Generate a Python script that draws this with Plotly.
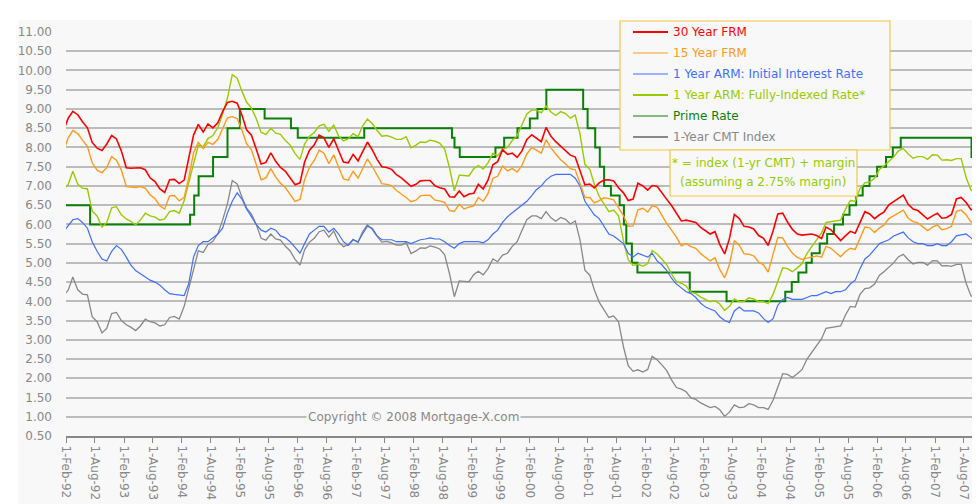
import pandas as pd
import plotly.graph_objects as go

# ---------------- data (monthly, Jan-1992 .. Jan-2008) ----------------
months = pd.date_range("1992-01-01", periods=193, freq="MS") + pd.Timedelta(days=14)

frm30 = [8.43, 8.76, 8.94, 8.85, 8.67, 8.51, 8.13, 7.98, 7.92, 8.09, 8.31, 8.22,
         7.91, 7.47, 7.46, 7.46, 7.47, 7.42, 7.21, 7.11, 6.92, 6.83, 7.16, 7.17,
         7.06, 7.15, 7.68, 8.32, 8.60, 8.40, 8.61, 8.51, 8.64, 8.93, 9.17, 9.20,
         9.15, 8.83, 8.46, 8.32, 7.96, 7.57, 7.61, 7.86, 7.64, 7.48, 7.38, 7.20,
         7.03, 7.08, 7.62, 7.93, 8.07, 8.32, 8.25, 8.00, 8.23, 7.92, 7.62, 7.60,
         7.82, 7.65, 7.90, 8.14, 7.94, 7.69, 7.50, 7.48, 7.43, 7.29, 7.21, 7.10,
         6.99, 7.04, 7.13, 7.14, 7.14, 7.00, 6.95, 6.92, 6.72, 6.71, 6.87, 6.72,
         6.79, 6.81, 7.04, 6.92, 7.15, 7.55, 7.63, 7.94, 7.82, 7.85, 7.74, 7.91,
         8.21, 8.33, 8.24, 8.15, 8.52, 8.29, 8.15, 8.03, 7.91, 7.80, 7.75, 7.38,
         7.03, 7.05, 6.95, 7.08, 7.15, 7.16, 7.13, 6.95, 6.82, 6.62, 6.66, 7.07,
         7.00, 6.89, 7.01, 6.99, 6.81, 6.65, 6.49, 6.29, 6.09, 6.11, 6.07, 6.05,
         5.92, 5.84, 5.75, 5.81, 5.48, 5.23, 5.63, 6.26, 6.15, 5.95, 5.93, 5.88,
         5.71, 5.64, 5.45, 5.83, 6.27, 6.29, 6.06, 5.87, 5.75, 5.72, 5.73, 5.75,
         5.71, 5.63, 5.93, 5.86, 5.72, 5.58, 5.70, 5.82, 5.77, 6.07, 6.33, 6.27,
         6.15, 6.25, 6.32, 6.51, 6.60, 6.68, 6.76, 6.52, 6.40, 6.36, 6.24, 6.14,
         6.22, 6.29, 6.16, 6.18, 6.26, 6.66, 6.70, 6.57, 6.38, 6.38, 6.21, 6.10,
         5.76]

frm15 = [7.88, 8.25, 8.44, 8.36, 8.19, 8.02, 7.60, 7.41, 7.34, 7.48, 7.76, 7.67,
         7.41, 6.98, 6.97, 6.96, 6.98, 6.94, 6.77, 6.67, 6.48, 6.40, 6.74, 6.75,
         6.61, 6.70, 7.20, 7.86, 8.13, 7.97, 8.13, 8.08, 8.21, 8.51, 8.77, 8.80,
         8.75, 8.44, 8.10, 7.94, 7.58, 7.16, 7.21, 7.45, 7.23, 7.07, 6.95, 6.78,
         6.60, 6.65, 7.16, 7.49, 7.66, 7.93, 7.85, 7.58, 7.81, 7.49, 7.18, 7.15,
         7.38, 7.20, 7.45, 7.70, 7.51, 7.26, 7.06, 7.04, 7.01, 6.88, 6.80, 6.70,
         6.59, 6.63, 6.74, 6.76, 6.75, 6.63, 6.61, 6.57, 6.36, 6.34, 6.52, 6.40,
         6.45, 6.48, 6.70, 6.60, 6.80, 7.20, 7.25, 7.51, 7.39, 7.45, 7.36, 7.53,
         7.83, 8.00, 7.93, 7.85, 8.20, 7.99, 7.83, 7.68, 7.57, 7.45, 7.42, 7.05,
         6.70, 6.70, 6.56, 6.62, 6.69, 6.67, 6.64, 6.43, 6.23, 5.95, 5.96, 6.38,
         6.42, 6.32, 6.48, 6.45, 6.22, 6.02, 5.85, 5.67, 5.44, 5.50, 5.42, 5.38,
         5.24, 5.14, 5.05, 5.13, 4.83, 4.61, 4.95, 5.58, 5.46, 5.24, 5.22, 5.18,
         5.02, 4.95, 4.76, 5.22, 5.66, 5.65, 5.43, 5.25, 5.14, 5.09, 5.12, 5.16,
         5.18, 5.15, 5.43, 5.38, 5.28, 5.16, 5.29, 5.38, 5.35, 5.66, 5.93, 5.91,
         5.79, 5.91, 5.98, 6.15, 6.23, 6.29, 6.37, 6.16, 6.07, 6.04, 5.93, 5.84,
         5.93, 5.99, 5.86, 5.89, 5.95, 6.34, 6.37, 6.25, 6.06, 6.07, 5.88, 5.80,
         5.39]

arm_initial = [5.80, 5.95, 6.12, 6.15, 6.05, 5.90, 5.55, 5.30, 5.10, 5.05, 5.30, 5.45,
               5.35, 5.15, 4.95, 4.80, 4.72, 4.65, 4.55, 4.50, 4.42, 4.30, 4.20, 4.18,
               4.16, 4.15, 4.45, 5.15, 5.45, 5.55, 5.55, 5.65, 5.75, 5.90, 6.30, 6.60,
               6.82, 6.65, 6.40, 6.20, 6.00, 5.85, 5.80, 5.90, 5.85, 5.70, 5.65, 5.55,
               5.40, 5.25, 5.50, 5.75, 5.85, 5.95, 5.95, 5.80, 5.90, 5.75, 5.55, 5.45,
               5.60, 5.55, 5.75, 5.95, 5.90, 5.70, 5.60, 5.60, 5.60, 5.55, 5.55, 5.55,
               5.50, 5.55, 5.60, 5.62, 5.65, 5.62, 5.62, 5.55, 5.45, 5.38, 5.50, 5.55,
               5.55, 5.55, 5.55, 5.52, 5.60, 5.75, 5.85, 6.05, 6.20, 6.30, 6.40, 6.50,
               6.60, 6.75, 6.90, 7.00, 7.15, 7.25, 7.30, 7.30, 7.30, 7.30, 7.20, 7.00,
               6.60, 6.40, 6.25, 6.15, 5.95, 5.75, 5.70, 5.60, 5.50, 5.25, 5.15, 5.25,
               5.20, 5.15, 5.25, 5.05, 4.95, 4.80, 4.60, 4.45, 4.35, 4.25, 4.20, 4.10,
               3.95, 3.85, 3.80, 3.75, 3.60, 3.50, 3.45, 3.75, 3.85, 3.75, 3.75, 3.75,
               3.70, 3.55, 3.45, 3.55, 3.90, 4.05, 4.10, 4.05, 4.05, 4.05, 4.10, 4.15,
               4.15, 4.20, 4.25, 4.20, 4.25, 4.25, 4.30, 4.45, 4.55, 4.85, 5.10, 5.20,
               5.35, 5.50, 5.55, 5.60, 5.70, 5.75, 5.80, 5.65, 5.55, 5.50, 5.50, 5.45,
               5.45, 5.50, 5.45, 5.45, 5.55, 5.70, 5.72, 5.75, 5.65, 5.55, 5.50, 5.45,
               5.40]

arm_fully_indexed = [6.90, 7.04, 7.38, 7.05, 6.94, 6.92, 6.35, 6.22, 5.93, 6.05, 6.43, 6.46,
                     6.25, 6.14, 6.08, 5.99, 6.11, 6.29, 6.22, 6.19, 6.11, 6.14, 6.33, 6.36,
                     6.29, 6.62, 7.07, 7.57, 8.06, 8.02, 8.23, 8.31, 8.51, 8.86, 9.29, 9.89,
                     9.80, 9.45, 9.18, 9.02, 8.75, 8.39, 8.34, 8.50, 8.37, 8.34, 8.18, 8.06,
                     7.84, 7.69, 8.09, 8.29, 8.39, 8.56, 8.60, 8.42, 8.58, 8.30, 8.17, 8.22,
                     8.36, 8.28, 8.55, 8.74, 8.62, 8.44, 8.29, 8.31, 8.27, 8.21, 8.21, 8.28,
                     7.99, 8.06, 8.14, 8.13, 8.19, 8.16, 8.11, 7.96, 7.46, 6.87, 7.28, 7.27,
                     7.26, 7.45, 7.53, 7.44, 7.60, 7.85, 7.78, 7.95, 8.00, 8.18, 8.30, 8.59,
                     8.87, 8.97, 8.97, 8.90, 9.08, 8.92, 8.83, 8.93, 8.88, 8.76, 8.84, 8.35,
                     7.56, 7.43, 7.05, 6.73, 6.53, 6.33, 6.37, 6.22, 5.57, 5.08, 4.93, 4.97,
                     4.91, 4.98, 5.32, 5.23, 5.10, 4.95, 4.71, 4.51, 4.47, 4.40, 4.24, 4.20,
                     4.11, 4.05, 3.99, 4.02, 3.93, 3.76, 3.87, 4.06, 3.99, 4.00, 4.09, 4.06,
                     3.99, 3.99, 3.94, 4.18, 4.53, 4.87, 4.85, 4.77, 4.87, 4.98, 5.25, 5.42,
                     5.61, 5.78, 6.05, 6.07, 6.08, 6.11, 6.39, 6.62, 6.60, 6.93, 7.08, 7.10,
                     7.20, 7.43, 7.52, 7.65, 7.75, 7.91, 7.97, 7.83, 7.72, 7.76, 7.76, 7.69,
                     7.81, 7.80, 7.67, 7.68, 7.66, 7.71, 7.71, 7.22, 6.89, 6.85, 6.25, 6.01,
                     5.46]

cmt_1yr = [4.15, 4.29, 4.63, 4.30, 4.19, 4.17, 3.60, 3.47, 3.18, 3.30, 3.68, 3.71,
           3.50, 3.39, 3.33, 3.24, 3.36, 3.54, 3.47, 3.44, 3.36, 3.39, 3.58, 3.61,
           3.54, 3.87, 4.32, 4.82, 5.31, 5.27, 5.48, 5.56, 5.76, 6.11, 6.54, 7.14,
           7.05, 6.70, 6.43, 6.27, 6.00, 5.64, 5.59, 5.75, 5.62, 5.59, 5.43, 5.31,
           5.09, 4.94, 5.34, 5.54, 5.64, 5.81, 5.85, 5.67, 5.83, 5.55, 5.42, 5.47,
           5.61, 5.53, 5.80, 5.99, 5.87, 5.69, 5.54, 5.56, 5.52, 5.46, 5.46, 5.53,
           5.24, 5.31, 5.39, 5.38, 5.44, 5.41, 5.36, 5.21, 4.71, 4.12, 4.53, 4.52,
           4.51, 4.70, 4.78, 4.69, 4.85, 5.10, 5.03, 5.20, 5.25, 5.43, 5.55, 5.84,
           6.12, 6.22, 6.22, 6.15, 6.33, 6.17, 6.08, 6.18, 6.13, 6.01, 6.09, 5.60,
           4.81, 4.68, 4.30, 3.98, 3.78, 3.58, 3.62, 3.47, 2.82, 2.33, 2.18, 2.22,
           2.16, 2.23, 2.57, 2.48, 2.35, 2.20, 1.96, 1.76, 1.72, 1.65, 1.49, 1.45,
           1.36, 1.30, 1.24, 1.27, 1.18, 1.01, 1.12, 1.31, 1.24, 1.25, 1.34, 1.31,
           1.24, 1.24, 1.19, 1.43, 1.78, 2.12, 2.10, 2.02, 2.12, 2.23, 2.50, 2.67,
           2.86, 3.03, 3.30, 3.32, 3.33, 3.36, 3.64, 3.87, 3.85, 4.18, 4.33, 4.35,
           4.45, 4.68, 4.77, 4.90, 5.00, 5.16, 5.22, 5.08, 4.97, 5.01, 5.01, 4.94,
           5.06, 5.05, 4.92, 4.93, 4.91, 4.96, 4.96, 4.47, 4.14, 4.10, 3.50, 3.26,
           2.71]

prime_dates = ["1992-01-01", "1992-07-02", "1994-03-24", "1994-04-19", "1994-05-17",
               "1994-08-16", "1994-11-15", "1995-02-01", "1995-07-07", "1995-12-20",
               "1996-02-01", "1997-03-26", "1998-09-30", "1998-10-16", "1998-11-18",
               "1999-07-01", "1999-08-25", "1999-11-17", "2000-02-03", "2000-03-22",
               "2000-05-17", "2001-01-04", "2001-02-01", "2001-03-21", "2001-04-19",
               "2001-05-16", "2001-06-28", "2001-08-22", "2001-09-18", "2001-10-03",
               "2001-11-07", "2001-12-12", "2002-11-07", "2003-06-27", "2004-07-01",
               "2004-08-11", "2004-09-22", "2004-11-11", "2004-12-15", "2005-02-03",
               "2005-03-22", "2005-05-04", "2005-06-30", "2005-08-10", "2005-09-21",
               "2005-11-01", "2005-12-14", "2006-01-31", "2006-03-28", "2006-05-10",
               "2006-06-29", "2007-09-18", "2007-10-31", "2007-12-11", "2008-01-22"]
prime_rate = [6.50, 6.00, 6.25, 6.75, 7.25, 7.75, 8.50, 9.00, 8.75, 8.50,
              8.25, 8.50, 8.25, 8.00, 7.75, 8.00, 8.25, 8.50, 8.75, 9.00,
              9.50, 9.00, 8.50, 8.00, 7.50, 7.00, 6.75, 6.50, 6.00, 5.50,
              5.00, 4.75, 4.25, 4.00, 4.25, 4.50, 4.75, 5.00, 5.25, 5.50,
              5.75, 6.00, 6.25, 6.50, 6.75, 7.00, 7.25, 7.50, 7.75, 8.00,
              8.25, 7.75, 7.50, 7.25, 6.50]

series_names = ["30 Year FRM", "15 Year FRM", "1 Year ARM: Initial Interest Rate",
                "1 Year ARM: Fully-Indexed Rate*", "Prime Rate", "1-Year CMT Index"]
y_ticks = [0.5 + 0.5 * i for i in range(22)]

# ---------------- styling ----------------
RED, ORANGE, BLUE, LIME, GREEN, GRAY = "#ff0000", "#ff9a1a", "#3f6fff", "#99cc00", "#0a800a", "#888888"
FONT = "DejaVu Sans"
L, T, W, H, B = 58, 23, 922, 405, 76


def px(x):
    return (x - L) / W


def py(y):
    return (T + H - y) / H


fig = go.Figure()
fig.add_trace(go.Scatter(x=months, y=cmt_1yr, mode="lines", line=dict(color=GRAY, width=1.3), name=series_names[5]))
fig.add_trace(go.Scatter(x=prime_dates, y=prime_rate, mode="lines", line=dict(color=GREEN, width=2, shape="hv"), name=series_names[4]))
fig.add_trace(go.Scatter(x=months, y=arm_fully_indexed, mode="lines", line=dict(color=LIME, width=1.4), name=series_names[3]))
fig.add_trace(go.Scatter(x=months, y=arm_initial, mode="lines", line=dict(color=BLUE, width=1.2), name=series_names[2]))
fig.add_trace(go.Scatter(x=months, y=frm15, mode="lines", line=dict(color=ORANGE, width=1.4), name=series_names[1]))
fig.add_trace(go.Scatter(x=months, y=frm30, mode="lines", line=dict(color=RED, width=1.6), name=series_names[0]))

shapes = [
    dict(type="rect", xref="paper", yref="paper", x0=px(10), x1=px(990), y0=py(520), y1=py(12),
         fillcolor="#f8f8f8", line=dict(width=0), layer="below"),
    dict(type="rect", xref="paper", yref="paper", x0=px(612), x1=px(882), y0=py(142), y1=py(13),
         fillcolor="#f8f8f8", line=dict(color="#f2c744", width=1.2), layer="above"),
    dict(type="rect", xref="paper", yref="paper", x0=px(662), x1=px(849), y0=py(188), y1=py(142),
         fillcolor="#f8f8f8", line=dict(color="#f2c744", width=1.2), layer="above"),
]
legend_colors = [RED, ORANGE, BLUE, LIME, GREEN, GRAY]
legend_widths = [2, 1, 1, 2, 1, 2]
annotations = []
for i, (nm, col, lw) in enumerate(zip(series_names, legend_colors, legend_widths)):
    yy = 24 + 21 * i
    shapes.append(dict(type="line", xref="paper", yref="paper", x0=px(625), x1=px(660), y0=py(yy), y1=py(yy),
                       line=dict(color=col, width=lw), layer="above"))
    annotations.append(dict(xref="paper", yref="paper", x=px(663), y=py(yy), text=nm, showarrow=False,
                            xanchor="left", yanchor="middle", font=dict(family=FONT, size=12, color=col)))
annotations.append(dict(xref="paper", yref="paper", x=px(755), y=py(155), text="* = index (1-yr CMT) + margin",
                        showarrow=False, xanchor="center", yanchor="middle", font=dict(family=FONT, size=12, color=LIME)))
annotations.append(dict(xref="paper", yref="paper", x=px(755), y=py(174), text="(assuming a 2.75% margin)",
                        showarrow=False, xanchor="center", yanchor="middle", font=dict(family=FONT, size=12, color=LIME)))
annotations.append(dict(xref="paper", yref="y", x=px(405), y=1.0, text="Copyright © 2008 Mortgage-X.com",
                        showarrow=False, xanchor="center", yanchor="middle", bgcolor="#f8f8f8", borderpad=1,
                        font=dict(family=FONT, size=12, color="#888888")))

fig.update_layout(
    width=980, height=504,
    margin=dict(l=L, r=980 - L - W, t=T, b=B, pad=0),
    paper_bgcolor="#ffffff", plot_bgcolor="#f8f8f8",
    showlegend=False, shapes=shapes, annotations=annotations,
    font=dict(family=FONT, color="#888888"),
)
fig.update_xaxes(
    range=["1992-02-01", "2007-12-31"], type="date",
    tick0="1992-02-01", dtick="M6", tickformat="%-d-%b-%y", tickangle=90,
    tickfont=dict(family=FONT, size=12, color="#888888"),
    showgrid=False, zeroline=False, showline=True, linecolor="#888888", linewidth=2,
    ticks="outside", ticklen=5, tickcolor="#888888", tickwidth=1,
)
fig.update_yaxes(
    range=[0.5, 11.026], tickvals=y_ticks, ticktext=[f"{v:.2f}" for v in y_ticks],
    tickfont=dict(family=FONT, size=12, color="#888888"),
    showgrid=True, gridcolor="#bcbcbc", gridwidth=1.5, zeroline=False, showline=False,
    ticks="", ticklabelstandoff=13,
)

fig.write_html("out.html")
